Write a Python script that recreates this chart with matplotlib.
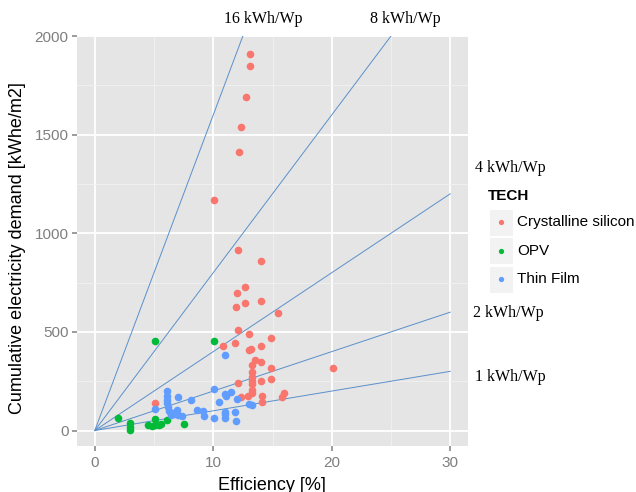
import matplotlib
matplotlib.use("Agg")
import matplotlib.pyplot as plt
from matplotlib.lines import Line2D
import numpy as np

# ---- data ----
cryst_x = [13.1, 13.1, 12.8, 12.3, 12.2, 10.1, 12.1, 14.0, 12.7, 12.0, 12.7, 14.0, 11.9, 15.5,
           12.1, 13.0, 14.9, 10.8, 11.8, 13.0, 13.2, 14.0, 13.5, 14.0, 13.3, 14.9, 20.1, 13.3,
           13.3, 14.9, 14.0, 12.1, 13.3, 13.3, 12.9, 12.3, 14.1, 14.1, 16.0, 15.8, 5.1, 13.3, 13.3]
cryst_y = [1908, 1846, 1689, 1540, 1410, 1168, 915, 859, 729, 695, 646, 658, 625, 597,
           508, 490, 470, 431, 444, 407, 414, 429, 356, 349, 331, 317, 319, 297,
           271, 259, 249, 239, 234, 207, 176, 170, 175, 145, 192, 172, 139, 190, 250]
opv_x = [2.0, 3.0, 3.0, 3.0, 4.5, 4.8, 5.1, 5.4, 5.6, 5.1, 6.1, 7.5, 5.1, 10.1]
opv_y = [63, 37, 20, 5, 27, 25, 28, 30, 31, 59, 51, 34, 454, 454]
thin_x = [6.1, 6.1, 6.1, 6.1, 5.1, 7.0, 8.1, 6.3, 6.6, 6.9, 7.0, 6.4, 6.7, 8.6, 9.1, 9.2,
          10.1, 10.1, 11.0, 10.5, 11.0, 11.1, 11.5, 11.0, 11.0, 11.0, 11.8, 11.9, 12.0,
          13.0, 13.3, 7.4, 6.2]
thin_y = [200, 175, 153, 141, 110, 170, 153, 100, 90, 102, 78, 78, 85, 102, 97, 76,
          208, 63, 381, 147, 186, 175, 197, 85, 63, 93, 93, 47, 158,
          136, 131, 76, 120]
yield_levels = [1, 2, 4, 8, 16]          # kWh/Wp
yield_labels = ["1 kWh/Wp", "2 kWh/Wp", "4 kWh/Wp", "8 kWh/Wp", "16 kWh/Wp"]
x_ticks = [0, 10, 20, 30]
y_ticks = [0, 500, 1000, 1500, 2000]
legend_title = "TECH"
legend_names = ["Crystalline silicon", "OPV", "Thin Film"]

plt.rcParams["font.family"] = ["Liberation Sans", "DejaVu Sans"]

W, H = 636, 492
fig = plt.figure(figsize=(W / 100, H / 100), dpi=100)
L, R, T, B = 77, 468, 36, 446
ax = fig.add_axes([L / W, 1 - B / H, (R - L) / W, (B - T) / H])
ax.set_facecolor("#E5E5E5")
ax.set_xlim(-1.5, 31.5)
y0px, ppu = 430.5, 0.1975
ax.set_ylim(-(B - y0px) / ppu, (y0px - T) / ppu)

for s in ax.spines.values():
    s.set_visible(False)
ax.set_xticks(x_ticks)
ax.set_yticks(y_ticks)
ax.set_xticks([5, 15, 25], minor=True)
ax.set_yticks([250, 750, 1250, 1750], minor=True)
ax.grid(True, which="major", color="white", lw=1.3)
ax.grid(True, which="minor", color="#F2F2F2", lw=0.6)
ax.set_axisbelow(True)
ax.tick_params(which="major", colors="#8A8A8A", labelcolor="#7F7F7F", labelsize=11,
               length=3.5, width=1.2)
ax.tick_params(axis="x", pad=4)
ax.tick_params(axis="y", pad=2.5)
ax.tick_params(which="minor", length=0)

# reference lines: y = 10 * k * x, drawn over the efficiency range 0..30
xx = np.array([0, 30.0])
for k in yield_levels:
    ax.plot(xx, 10 * k * xx, color="#5A8FCB", lw=0.7, zorder=2)

c_red, c_green, c_blue = "#F8766D", "#00BA38", "#619CFF"
ax.scatter(cryst_x, cryst_y, s=30, color=c_red, zorder=3, linewidths=0)
ax.scatter(opv_x, opv_y, s=30, color=c_green, zorder=3, linewidths=0)
ax.scatter(thin_x, thin_y, s=30, color=c_blue, zorder=3, linewidths=0)

fig.text(18 / W, 1 - 248 / H, "Cumulative electricity demand [kWhe/m2]", fontsize=13,
         rotation=90, ha="center", va="center")
fig.text(272 / W, 1 - 477 / H, "Efficiency [%]", fontsize=13, ha="center", va="top")

# yield labels (figure positions)
serif = dict(family="Liberation Serif", fontsize=11.5, color="black")
fig.text(263 / W, 1 - 19 / H, yield_labels[4], ha="center", va="center", **serif)
fig.text(405 / W, 1 - 19 / H, yield_labels[3], ha="center", va="center", **serif)
fig.text(475 / W, 1 - 168 / H, yield_labels[2], ha="left", va="center", **serif)
fig.text(473 / W, 1 - 313 / H, yield_labels[1], ha="left", va="center", **serif)
fig.text(475 / W, 1 - 377 / H, yield_labels[0], ha="left", va="center", **serif)

# legend
fig.text(488 / W, 1 - 196 / H, legend_title, fontsize=11, fontweight="bold", ha="left", va="center")
cols = [c_red, c_green, c_blue]
for i, (n, c) in enumerate(zip(legend_names, cols)):
    yc = 222.5 + i * 28.3
    fig.patches.append(plt.Rectangle((489 / W, 1 - (yc + 13.5) / H), 24 / W, 27 / H,
                                     transform=fig.transFigure, facecolor="#F2F2F2",
                                     edgecolor="white", lw=0.8, figure=fig))
    fig.add_artist(Line2D([501 / W], [1 - yc / H], marker="o", color=c, markersize=3.8,
                          markeredgewidth=0, transform=fig.transFigure))
    fig.text(517 / W, 1 - yc / H, n, fontsize=11, ha="left", va="center")

fig.savefig("out.png", dpi=100)
